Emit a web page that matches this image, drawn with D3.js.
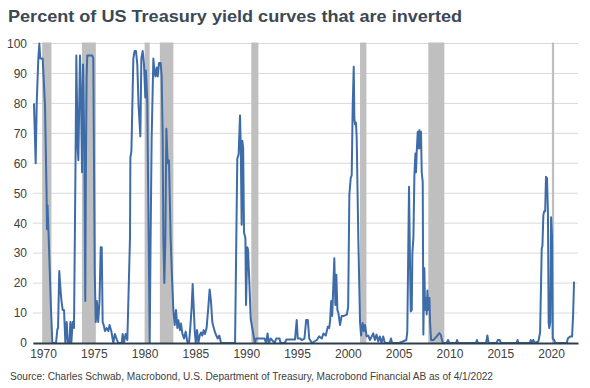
<!DOCTYPE html>
<html><head><meta charset="utf-8">
<script src="https://cdn.jsdelivr.net/npm/d3@7"></script>
<style>body{margin:0;background:#fff;} svg{display:block;}</style>
</head><body>
<script>
const title = "Percent of US Treasury yield curves that are inverted";
const source = "Source: Charles Schwab, Macrobond, U.S. Department of Treasury, Macrobond Financial AB as of 4/1/2022";
const xTicks = [1970,1975,1980,1985,1990,1995,2000,2005,2010,2015,2020];
const yTicks = [0,10,20,30,40,50,60,70,80,90,100];
const recessionStart = [1969.92,1973.83,1980.0,1981.5,1990.5,2001.2,2007.92,2020.08];
const recessionEnd   = [1970.83,1975.2,1980.5,1982.83,1991.2,2001.83,2009.5,2020.3];
const years = [1969.11,1969.28,1969.38,1969.54,1969.64,1969.73,1969.80,1969.97,1970.20,1970.36,1970.39,1970.45,1970.60,1970.79,1970.92,1971.28,1971.41,1971.48,1971.60,1971.74,1971.82,1971.94,1972.07,1972.20,1972.33,1972.45,1972.61,1972.69,1972.79,1972.92,1973.05,1973.20,1973.28,1973.41,1973.48,1973.64,1973.74,1973.84,1973.94,1974.07,1974.16,1974.22,1974.29,1974.36,1974.85,1974.95,1975.09,1975.19,1975.30,1975.43,1975.56,1975.68,1975.78,1975.87,1975.97,1976.10,1976.26,1976.43,1976.55,1976.72,1976.92,1977.07,1977.23,1977.40,1977.74,1977.84,1977.97,1978.13,1978.30,1978.56,1978.60,1978.70,1978.89,1979.02,1979.15,1979.28,1979.41,1979.58,1979.68,1979.81,1979.94,1980.07,1980.13,1980.26,1980.40,1980.50,1980.59,1980.69,1980.86,1980.96,1981.06,1981.19,1981.29,1981.42,1981.58,1981.68,1981.78,1981.84,1981.94,1982.04,1982.14,1982.27,1982.40,1982.56,1982.70,1982.83,1982.96,1983.09,1983.22,1983.32,1983.48,1983.58,1983.71,1983.88,1984.04,1984.20,1984.37,1984.50,1984.63,1984.73,1984.83,1984.93,1985.03,1985.16,1985.29,1985.42,1985.55,1985.68,1985.81,1985.94,1986.10,1986.27,1986.40,1986.53,1986.66,1986.86,1986.99,1987.19,1987.35,1987.52,1988.73,1988.90,1989.12,1989.25,1989.39,1989.46,1989.55,1989.62,1989.70,1989.78,1989.92,1989.98,1990.11,1990.18,1990.31,1990.44,1990.85,1990.98,1991.30,1991.80,1991.95,1992.10,1992.22,1992.40,1992.80,1992.95,1993.28,1993.38,1993.80,1993.95,1994.80,1994.97,1995.07,1995.30,1995.47,1995.73,1995.90,1996.06,1996.20,1996.46,1996.95,1997.18,1997.44,1997.60,1997.83,1998.03,1998.16,1998.25,1998.36,1998.46,1998.67,1998.77,1998.87,1998.97,1999.07,1999.23,1999.39,1999.56,1999.90,2000.03,2000.15,2000.28,2000.38,2000.48,2000.58,2000.64,2000.71,2000.80,2000.87,2001.03,2001.20,2001.30,2001.46,2001.59,2001.69,2001.85,2002.01,2002.17,2002.50,2002.66,2002.82,2002.99,2003.15,2003.31,2003.48,2003.64,2004.10,2004.25,2004.35,2005.05,2005.75,2005.85,2006.02,2006.12,2006.19,2006.29,2006.35,2006.45,2006.55,2006.65,2006.71,2006.78,2006.88,2006.97,2007.04,2007.10,2007.20,2007.27,2007.37,2007.43,2007.53,2007.60,2007.70,2007.76,2007.83,2007.93,2008.03,2008.09,2008.19,2008.42,2008.75,2009.00,2009.14,2009.34,2009.73,2009.86,2009.99,2010.65,2010.75,2010.85,2012.60,2012.70,2012.80,2013.60,2013.73,2013.85,2014.65,2014.75,2014.95,2015.05,2016.60,2016.70,2016.80,2017.90,2018.00,2018.10,2018.25,2018.40,2018.75,2018.92,2019.08,2019.15,2019.24,2019.33,2019.42,2019.50,2019.60,2019.69,2019.76,2019.82,2019.92,2020.00,2020.09,2020.16,2020.30,2020.42,2021.55,2021.65,2021.88,2022.07,2022.17,2022.26];
const pct = [80,60,80,95,100,95,95,95,79,48,38,46,31,11,0,0,4.5,5,24,17,14,11,11,0,7,0,0,7,0,7,5,60,96,65,61,96,82,57,93,65,14,57,89,96,96,95,24,7,14,7,14,32,32,7,6,4,5,4,6,4,0,3,1.5,0,0,3,0,3,1,35,62,64,95,97.5,97.5,93,79,69,95,97.5,93,82,91,81,35,0,35,68,95,91,89,92,89,93.5,93.5,89,68,35,20,35,71.5,60,61,35,21.5,11,6,11,5,7.6,4.3,6.5,3.2,1.5,3.8,0.4,0,5.4,12,19.7,12,4.3,0,4.3,0,2.5,3.5,2.5,4.3,3,5,12,17.9,14,7,4.3,3,1.5,2.5,0,0,0,61.5,63,76,66,39.5,67.5,65,37,35,12.7,32,31,20,8,0,1.5,1.5,1.5,0,3.2,0,1.5,0,1.5,1.5,0,0,1.2,1.2,7.7,1.5,1.5,1,1.5,7.7,7.7,1.5,0,1,2.2,1.5,3.2,2.5,5.4,5,7.2,14,9,28.3,12.7,22.8,11,10,6,9,9,9.5,12,49.5,55,56,79.5,92.2,75,73,73.5,68.5,35,7,2.5,6.7,4,6,2.2,2.5,1,3.2,1,2.8,0.5,2.2,0,2.2,0,0,1.5,0,0,1,3.7,52.2,26,10.5,11,30,35,56,63.3,57,64,70.5,65,71,65,70.5,57,53.7,2.8,25,11,15,9.5,17.5,11,15,7,1,1,2.2,3.3,2.8,0,0,1,0,0,1,0,0,1,0,0,2.5,0,0,1,1,0,0,1,0,0,1,0,1,0,0.5,3.5,31.5,32.5,42.7,44,44,55.5,55,44,7,5,7,42,36,1.5,1,0,0,1.5,2.2,2.2,9.5,20.5];

const W = 590, H = 388;
const svg = d3.select("body").append("svg").attr("width", W).attr("height", H);
const x = d3.scaleLinear().domain([1969, 2022.65]).range([32.84, 578]);
const y = d3.scaleLinear().domain([0, 100]).range([343, 43.5]);
const textCol = "#404040";

svg.append("text").attr("x", 8).attr("y", 22).text(title)
  .attr("font-family", "Liberation Sans, Arial, sans-serif").attr("font-weight", "bold")
  .attr("font-size", 17).attr("fill", "#3b4855")
  .attr("textLength", 454).attr("lengthAdjust", "spacingAndGlyphs");

// gridlines
svg.append("g").selectAll("line").data(yTicks.filter(d => d > 0)).join("line")
  .attr("x1", x.range()[0]).attr("x2", x.range()[1])
  .attr("y1", d => y(d)).attr("y2", d => y(d))
  .attr("stroke", "#d9d9d9").attr("stroke-width", 1);

// recessions
svg.append("g").selectAll("rect").data(recessionStart.map((s, i) => [s, recessionEnd[i]])).join("rect")
  .attr("x", d => x(d[0])).attr("width", d => x(d[1]) - x(d[0]))
  .attr("y", y(100) - 1).attr("height", y(0) - y(100) + 1)
  .attr("fill", "#bfbfbf");

// y axis labels
const yAxis = d3.axisLeft(y).tickValues(yTicks).tickSize(0).tickPadding(0).tickFormat(d3.format("d"));
const gy = svg.append("g").attr("transform", "translate(27,0)").call(yAxis);
gy.select(".domain").remove();
gy.selectAll("text").attr("font-family", "Liberation Sans, Arial, sans-serif").attr("font-size", 12).attr("fill", textCol);

// line
const data = years.map((d, i) => [d, pct[i]]);
svg.append("path").datum(data)
  .attr("d", d3.line().x(d => x(d[0])).y(d => y(d[1])))
  .attr("fill", "none").attr("stroke", "#3e6ca8").attr("stroke-width", 2).attr("stroke-linejoin", "round");

// x axis
const xAxis = d3.axisBottom(x).tickValues(xTicks).tickSize(0).tickPadding(6).tickFormat(d3.format("d"));
const gx = svg.append("g").attr("transform", `translate(0,${y(0)})`).call(xAxis);
gx.select(".domain").attr("stroke", "#2e3e4e").attr("stroke-width", 2);
gx.selectAll("text").attr("font-family", "Liberation Sans, Arial, sans-serif").attr("font-size", 12).attr("fill", textCol);

svg.append("text").attr("x", 10).attr("y", 380).text(source)
  .attr("font-family", "Liberation Sans, Arial, sans-serif").attr("font-size", 10).attr("fill", textCol)
  .attr("textLength", 483).attr("lengthAdjust", "spacingAndGlyphs");
</script>
</body></html>
